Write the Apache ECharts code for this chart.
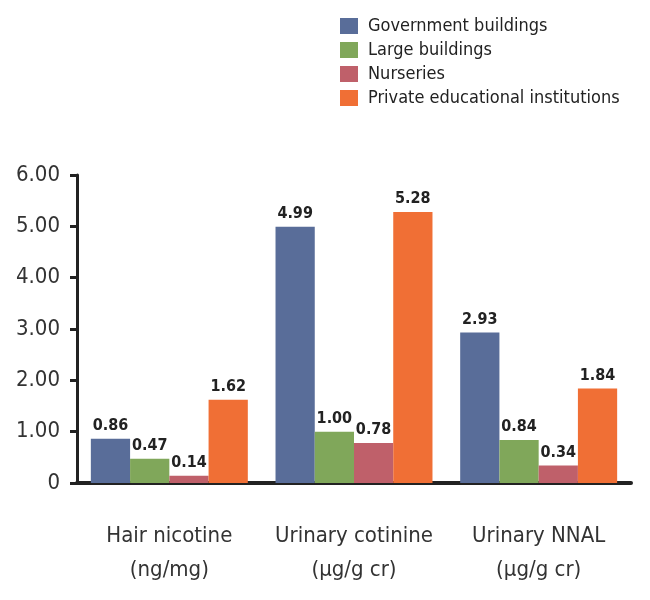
<!DOCTYPE html>
<html><head><meta charset="utf-8">
<script src="https://cdn.jsdelivr.net/npm/echarts@6/dist/echarts.min.js"></script>
<style>html,body{margin:0;padding:0;background:#fff}#c{width:650px;height:600px}</style>
</head><body><div id="c"></div>
<script>
const categories = ['Hair nicotine\n(ng/mg)', 'Urinary cotinine\n(µg/g cr)', 'Urinary NNAL\n(µg/g cr)'];
const seriesNames = ['Government buildings', 'Large buildings', 'Nurseries', 'Private educational institutions'];
const government = [0.86, 4.99, 2.93];
const large = [0.47, 1.00, 0.84];
const nurseries = [0.14, 0.78, 0.34];
const privateEdu = [1.62, 5.28, 1.84];
const yTicks = [0, 1, 2, 3, 4, 5, 6];
const colors = ['#596d99', '#80a75a', '#bf606a', '#f06f35'];
const FONT = "'Liberation Sans Narrow', 'DejaVu Sans Condensed', sans-serif";
const values = [government, large, nurseries, privateEdu];

const chart = echarts.init(document.getElementById('c'), null, {renderer: 'canvas'});
chart.setOption({
  animation: false,
  legend: {
    orient: 'vertical', left: 335, top: 12,
    itemWidth: 18, itemHeight: 16, itemGap: 6,
    icon: 'rect',
    textStyle: {fontFamily: FONT, fontSize: 18, color: '#222', padding: [0, 0, 0, 5]},
    data: seriesNames
  },
  grid: {left: 77, right: 19, top: 175, bottom: 117, containLabel: false},
  xAxis: {
    type: 'category', data: categories,
    axisLine: {lineStyle: {color: '#222', width: 4}},
    axisTick: {show: false},
    axisLabel: {interval: 0, fontFamily: FONT, fontSize: 22, color: '#333', margin: 36, lineHeight: 34}
  },
  yAxis: {
    type: 'value', min: 0, max: 6, interval: 1,
    axisLine: {show: true, lineStyle: {color: '#222', width: 3}},
    axisTick: {show: true, length: 7, lineStyle: {color: '#222', width: 3}},
    splitLine: {show: false},
    axisLabel: {fontFamily: FONT, fontSize: 22, color: '#333', margin: 17,
      formatter: v => v === 0 ? '0' : v.toFixed(2)}
  },
  series: seriesNames.map((n, i) => ({
    name: n, type: 'bar', data: values[i],
    barGap: '0%', barCategoryGap: '15%',
    itemStyle: {color: colors[i]},
    label: {show: true, position: 'top', distance: 5, fontFamily: FONT, fontSize: 16, fontWeight: 'bold', color: '#222',
      formatter: p => p.value.toFixed(2)}
  }))
});
</script></body></html>
